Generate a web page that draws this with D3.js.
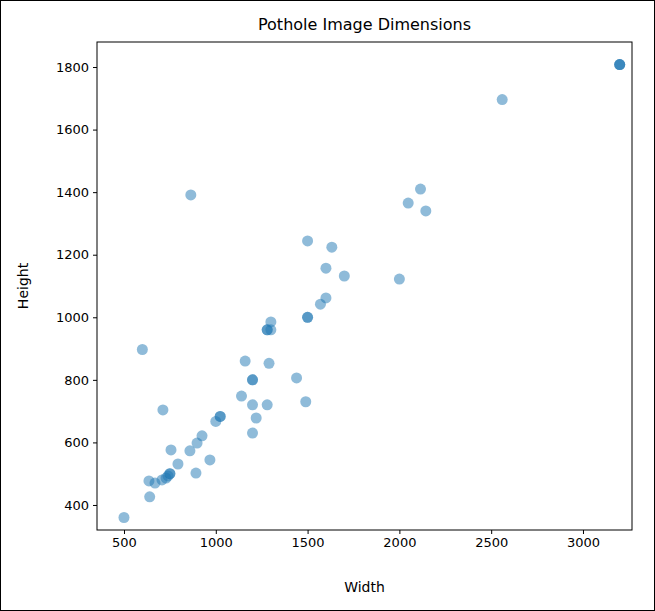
<!DOCTYPE html>
<html><head><meta charset="utf-8">
<script src="https://cdn.jsdelivr.net/npm/d3@7"></script>
<style>body{margin:0;background:#fff}svg{display:block}</style>
</head><body>
<svg id="c" width="655" height="611"></svg>
<script>
// image widths and heights (px)
const widths = [500,640,636,669,707,729,740,750,750,794,756,859,898,925,892,968,1000,1024,1024,712,600,864,1140,1200,1200,1200,1200,1160,1220,1280,1280,1280,1300,1300,1290,1440,1490,1500,1500,1500,1570,1600,1600,1632,1700,2000,2048,2115,2144,2560,3200,3200,3200];
const heights = [360,426,477,470,480,486,493,500,500,531,576,573,598,621,502,544,667,683,683,704,897,1391,748,720,800,800,630,860,678,720,960,960,960,985,853,806,730,1000,1000,1244,1042,1062,1157,1224,1132,1122,1365,1410,1340,1696,1808,1808,1808];
const xTicks = [500,1000,1500,2000,2500,3000];
const yTicks = [400,600,800,1000,1200,1400,1600,1800];

const svg = d3.select("#c");
const font = "DejaVu Sans, sans-serif";
svg.append("rect").attr("x",0.5).attr("y",0.5).attr("width",654).attr("height",610)
  .attr("fill","#fff").attr("stroke","#000");

const m = {l:97, r:632, t:42, b:530};
const x = d3.scaleLinear().domain([353, 3267]).range([m.l, m.r]);
const y = d3.scaleLinear().domain([320, 1880]).range([m.b, m.t]);

const g = svg.append("g");
g.selectAll("circle").data(widths).join("circle")
  .attr("cx", d => x(d)).attr("cy", (d,i) => y(heights[i])).attr("r", 5.5)
  .attr("fill","#1f77b4").attr("fill-opacity",0.5);

const xa = svg.append("g").attr("transform",`translate(0,${m.b})`)
  .call(d3.axisBottom(x).tickValues(xTicks).tickFormat(d3.format("d")).tickSize(4).tickPadding(4));
const ya = svg.append("g").attr("transform",`translate(${m.l},0)`)
  .call(d3.axisLeft(y).tickValues(yTicks).tickFormat(d3.format("d")).tickSize(4).tickPadding(4));
[xa,ya].forEach(a => {
  a.select(".domain").remove();
  a.selectAll("text").attr("font-family",font).attr("font-size",13).attr("fill","#000");
  a.selectAll("line").attr("stroke","#000");
});
svg.append("rect").attr("x",m.l).attr("y",m.t).attr("width",m.r-m.l).attr("height",m.b-m.t)
  .attr("fill","none").attr("stroke","#000");

svg.append("text").attr("x",(m.l+m.r)/2).attr("y",30).attr("text-anchor","middle")
  .attr("font-family",font).attr("font-size",16).text("Pothole Image Dimensions");
svg.append("text").attr("x",(m.l+m.r)/2).attr("y",592).attr("text-anchor","middle")
  .attr("font-family",font).attr("font-size",14).text("Width");
svg.append("text").attr("transform",`translate(28,${(m.t+m.b)/2}) rotate(-90)`).attr("text-anchor","middle")
  .attr("font-family",font).attr("font-size",14).text("Height");
</script>
</body></html>
